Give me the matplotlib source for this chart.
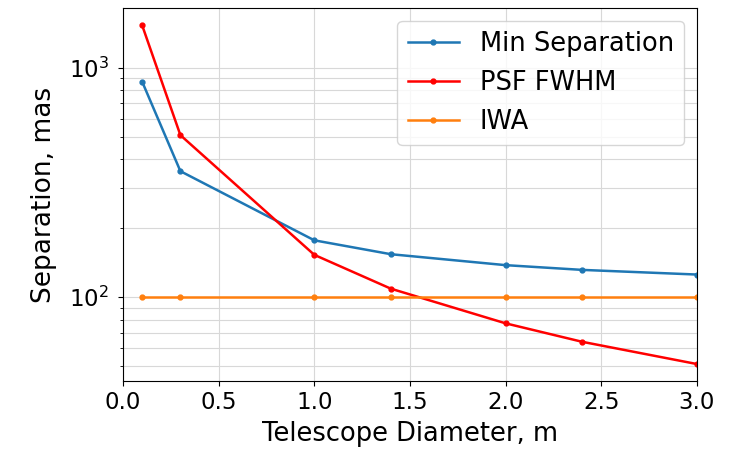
import matplotlib
matplotlib.use("Agg")
import matplotlib.pyplot as plt

diameters = [0.1, 0.3, 1.0, 1.4, 2.0, 2.4, 3.0]
min_separation = [869, 354, 177, 154, 138, 131.6, 125.6]
psf_fwhm = [1529, 508, 153, 109, 77.0, 64.0, 51.2]
iwa = [100, 100, 100, 100, 100, 100, 100]

fig = plt.figure(figsize=(7.43, 4.51), dpi=100)
ax = fig.add_axes([123/743, 1-381/451, (697-123)/743, (381-8.3)/451])

ax.semilogy(diameters, min_separation, '.-', color='#1f77b4', label='Min Separation', lw=1.8, ms=7)
ax.semilogy(diameters, psf_fwhm, '.-', color='red', label='PSF FWHM', lw=1.8, ms=7)
ax.semilogy(diameters, iwa, '.-', color='#ff7f0e', label='IWA', lw=1.8, ms=7)

ax.set_xlim(0, 3.0)
ax.grid(True, which='major', color='#d8d8d8', lw=0.8)
ax.grid(True, which='minor', axis='y', color='#d8d8d8', lw=0.8)
ax.tick_params(labelsize=16.5)
ax.tick_params(axis='y', which='major', pad=6.5)
ax.set_xlabel('Telescope Diameter, m', fontsize=18.5, labelpad=5)
ax.set_ylabel('Separation, mas', fontsize=19, labelpad=9)
ax.legend(fontsize=18.5, loc='upper right')

fig.savefig('out.png', dpi=100)
